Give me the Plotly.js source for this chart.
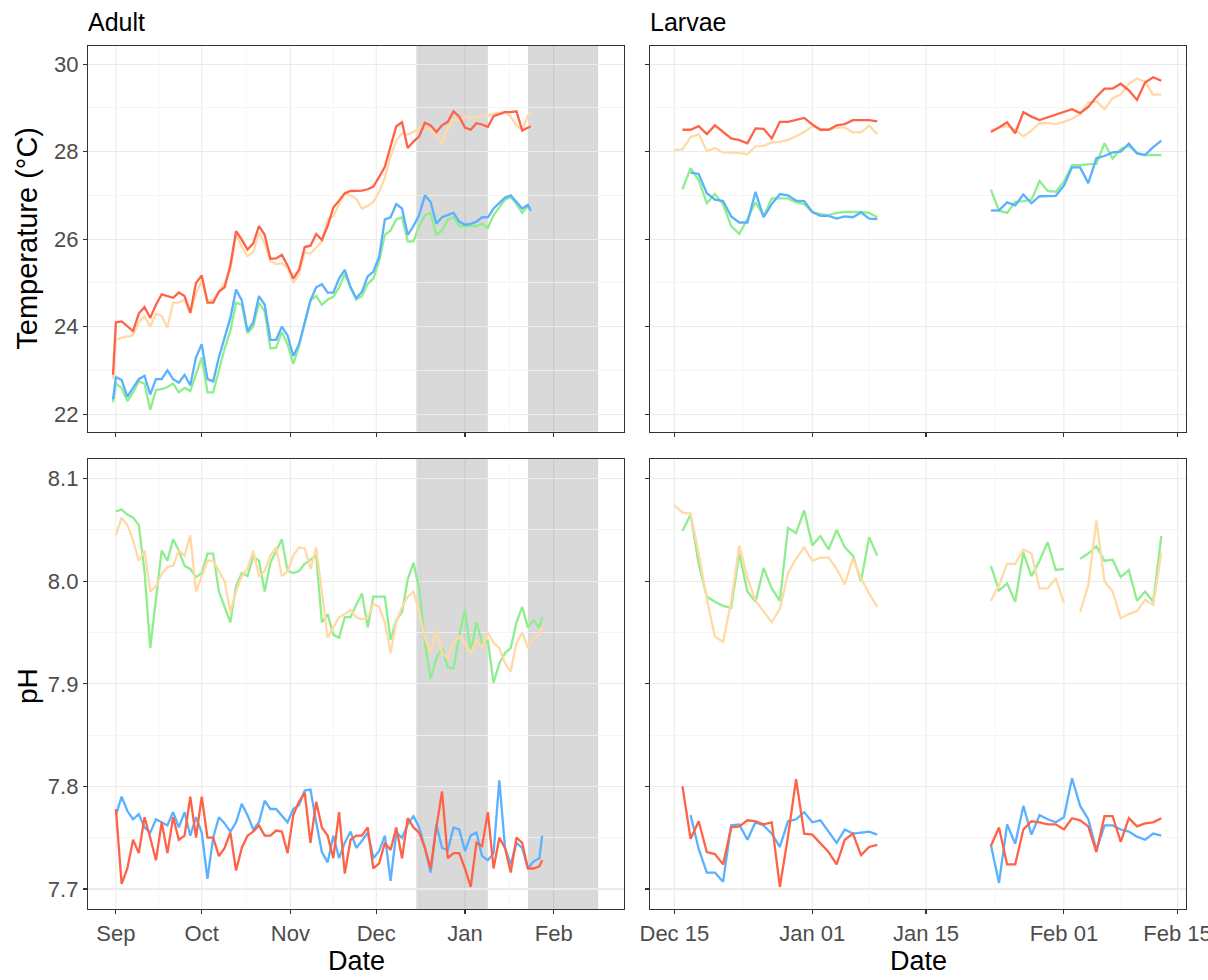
<!DOCTYPE html>
<html>
<head>
<meta charset="utf-8">
<script src="https://cdn.plot.ly/plotly-3.0.1.min.js"></script>
<style>html,body{margin:0;padding:0;background:#fff}#chart{width:1208px;height:980px}</style>
</head>
<body>
<div id="chart"></div>
<script>
// ---------- Adult: temperature ----------
const adultTempDates = ["2018-08-31","2018-09-01","2018-09-03","2018-09-05","2018-09-07","2018-09-09","2018-09-11","2018-09-13","2018-09-15","2018-09-17","2018-09-19","2018-09-21","2018-09-23","2018-09-25","2018-09-27","2018-09-29","2018-10-01","2018-10-03","2018-10-05","2018-10-07","2018-10-09","2018-10-11","2018-10-13","2018-10-15","2018-10-17","2018-10-19","2018-10-21","2018-10-23","2018-10-25","2018-10-27","2018-10-29","2018-10-31","2018-11-02","2018-11-04","2018-11-06","2018-11-08","2018-11-10","2018-11-12","2018-11-14","2018-11-16","2018-11-18","2018-11-20","2018-11-22","2018-11-24","2018-11-26","2018-11-28","2018-11-30","2018-12-02","2018-12-04","2018-12-06","2018-12-08","2018-12-10","2018-12-12","2018-12-14","2018-12-16","2018-12-18","2018-12-20","2018-12-22","2018-12-24","2018-12-26","2018-12-28","2018-12-30","2019-01-01","2019-01-03","2019-01-05","2019-01-07","2019-01-09","2019-01-11","2019-01-13","2019-01-15","2019-01-17","2019-01-19","2019-01-21","2019-01-23","2019-01-24"];
const adultTempRed = [22.9,24.1,
  24.12,24.0,23.9,24.3,24.45,24.2,24.5,24.74,24.7,24.66,24.78,24.7,24.32,25.0,
  25.17,24.55,24.55,24.8,24.9,25.4,26.18,25.99,25.76,25.9,26.3,26.1,25.55,25.56,25.64,25.4,
  25.1,25.3,25.82,25.85,26.12,25.98,26.3,26.72,26.88,27.05,27.1,27.1,27.11,27.14,27.2,
  27.42,27.65,28.12,28.58,28.67,28.08,28.23,28.35,28.66,28.6,28.45,28.6,28.68,28.92,28.8,
  28.55,28.5,28.65,28.62,28.56,28.81,28.86,28.9,28.9,28.92,28.48,28.55,
  28.58];
const adultTempPeach = [22.8,23.7,
  23.75,23.78,23.8,24.1,24.24,24.0,24.3,24.24,23.98,24.55,24.55,24.62,24.3,24.75,
  25.05,24.6,24.6,24.8,25.0,25.3,26.1,25.84,25.61,25.7,26.15,25.9,25.5,25.43,25.45,25.35,
  25.0,25.2,25.7,25.67,25.8,25.95,26.45,26.52,26.8,27.05,27.0,26.92,26.7,26.76,26.85,
  27.08,27.4,27.9,28.25,28.42,28.39,28.45,28.53,28.58,28.5,28.37,28.2,28.55,28.73,28.7,
  28.8,28.78,28.78,28.8,28.83,28.86,28.88,28.92,28.8,28.6,28.5,28.82,
  28.9];
const adultTempBlue = [22.34,22.85,
  22.78,22.4,22.6,22.8,22.88,22.45,22.8,22.8,23.0,22.8,22.72,22.9,22.66,23.3,
  23.6,22.8,22.75,23.3,23.75,24.2,24.85,24.6,23.9,24.1,24.7,24.5,23.7,23.7,24.0,23.8,
  23.33,23.6,24.1,24.6,24.9,24.97,24.78,24.78,25.1,25.3,24.9,24.65,24.8,25.15,25.26,
  25.6,26.45,26.5,26.8,26.7,26.1,26.3,26.55,27.0,26.85,26.35,26.5,26.55,26.6,26.4,
  26.33,26.35,26.4,26.5,26.5,26.7,26.82,26.95,27.0,26.86,26.7,26.78,
  26.65];
const adultTempGreen = [22.27,22.7,
  22.6,22.3,22.5,22.75,22.7,22.1,22.55,22.57,22.62,22.7,22.5,22.6,22.53,22.9,
  23.3,22.5,22.5,23.0,23.5,23.9,24.55,24.5,23.85,24.0,24.55,24.35,23.5,23.52,23.88,23.6,
  23.15,23.55,24.1,24.6,24.7,24.5,24.62,24.68,24.9,25.2,24.9,24.62,24.7,24.98,25.1,
  25.5,26.1,26.2,26.45,26.5,25.95,25.95,26.3,26.55,26.6,26.1,26.2,26.45,26.5,26.3,
  26.3,26.3,26.3,26.35,26.26,26.55,26.72,26.9,26.96,26.8,26.6,26.75,
  26.7];

// ---------- Adult: pH ----------
const adultPhDates = ["2018-09-01","2018-09-03","2018-09-05","2018-09-07","2018-09-09","2018-09-11","2018-09-13","2018-09-15","2018-09-17","2018-09-19","2018-09-21","2018-09-23","2018-09-25","2018-09-27","2018-09-29","2018-10-01","2018-10-03","2018-10-05","2018-10-07","2018-10-09","2018-10-11","2018-10-13","2018-10-15","2018-10-17","2018-10-19","2018-10-21","2018-10-23","2018-10-25","2018-10-27","2018-10-29","2018-10-31","2018-11-02","2018-11-04","2018-11-06","2018-11-08","2018-11-10","2018-11-12","2018-11-14","2018-11-16","2018-11-18","2018-11-20","2018-11-22","2018-11-24","2018-11-26","2018-11-28","2018-11-30","2018-12-02","2018-12-04","2018-12-06","2018-12-08","2018-12-10","2018-12-12","2018-12-14","2018-12-16","2018-12-18","2018-12-20","2018-12-22","2018-12-24","2018-12-26","2018-12-28","2018-12-30","2019-01-01","2019-01-03","2019-01-05","2019-01-07","2019-01-09","2019-01-11","2019-01-13","2019-01-15","2019-01-17","2019-01-19","2019-01-21","2019-01-23","2019-01-25","2019-01-27","2019-01-28"];
const adultPhGreen = [8.068,
  8.07,8.065,8.062,8.055,8.01,7.935,7.98,8.03,8.02,8.041,8.03,8.015,8.012,8.004,
  8.008,8.027,8.027,7.99,7.975,7.96,7.995,8.008,8.005,8.024,8.02,7.99,8.018,8.03,8.041,8.01,
  8.008,8.01,8.017,8.021,8.025,7.96,7.968,7.948,7.945,7.965,7.965,7.977,7.988,7.955,7.985,
  7.985,7.985,7.943,7.962,7.97,8.002,8.018,7.993,7.94,7.905,7.925,7.935,7.916,7.915,7.947,
  7.972,7.93,7.96,7.94,7.942,7.901,7.92,7.93,7.935,7.96,7.975,7.955,7.962,7.955,
  7.965];
const adultPhPeach = [8.045,
  8.062,8.055,8.04,8.02,8.03,7.99,7.995,8.007,8.014,8.015,8.03,8.025,8.045,7.99,
  8.005,8.02,8.02,8.01,8.0,7.97,7.99,8.005,8.012,8.03,8.005,8.01,8.025,8.033,8.005,8.01,
  8.025,8.033,8.032,8.012,8.033,7.99,7.945,7.955,7.965,7.968,7.972,7.965,7.963,7.965,7.978,
  7.975,7.96,7.93,7.96,7.975,7.985,7.99,7.97,7.945,7.93,7.952,7.93,7.925,7.94,7.946,
  7.94,7.93,7.942,7.935,7.95,7.94,7.935,7.92,7.912,7.94,7.95,7.935,7.945,7.948,
  7.955];
const adultPhBlue = [7.772,
  7.79,7.776,7.768,7.773,7.76,7.755,7.768,7.765,7.762,7.775,7.76,7.775,7.752,7.77,
  7.755,7.71,7.75,7.77,7.764,7.756,7.765,7.783,7.772,7.758,7.765,7.786,7.778,7.778,7.771,7.765,
  7.778,7.782,7.796,7.797,7.765,7.736,7.726,7.752,7.73,7.745,7.756,7.74,7.747,7.755,7.73,
  7.737,7.752,7.708,7.755,7.75,7.763,7.771,7.76,7.74,7.716,7.763,7.74,7.738,7.76,7.758,
  7.737,7.752,7.755,7.732,7.728,7.735,7.806,7.74,7.724,7.745,7.74,7.72,7.727,7.73,
  7.752];
const adultPhRed = [7.778,
  7.705,7.72,7.748,7.735,7.77,7.75,7.728,7.765,7.735,7.77,7.748,7.752,7.79,7.75,
  7.79,7.75,7.75,7.732,7.74,7.755,7.718,7.74,7.752,7.756,7.762,7.752,7.752,7.757,7.756,7.735,
  7.772,7.785,7.794,7.745,7.785,7.76,7.752,7.73,7.775,7.715,7.748,7.752,7.752,7.76,7.72,
  7.725,7.745,7.738,7.76,7.73,7.769,7.76,7.755,7.74,7.72,7.76,7.795,7.73,7.735,7.735,
  7.72,7.702,7.745,7.742,7.775,7.72,7.75,7.74,7.716,7.75,7.745,7.72,7.72,7.722,
  7.728];

// ---------- Larvae (daily; a null row separates the two runs) ----------
const larvaeDates = ["2018-12-15","2018-12-16","2018-12-17","2018-12-18","2018-12-19","2018-12-20","2018-12-21","2018-12-22","2018-12-23","2018-12-24","2018-12-25","2018-12-26","2018-12-27","2018-12-28","2018-12-29","2018-12-30","2018-12-31","2019-01-01","2019-01-02","2019-01-03","2019-01-04","2019-01-05","2019-01-06","2019-01-07","2019-01-08","2019-01-09",
  "2019-01-16",
  "2019-01-23","2019-01-24","2019-01-25","2019-01-26","2019-01-27","2019-01-28","2019-01-29","2019-01-30","2019-01-31","2019-02-01","2019-02-02","2019-02-03","2019-02-04","2019-02-05","2019-02-06","2019-02-07","2019-02-08","2019-02-09","2019-02-10","2019-02-11","2019-02-12","2019-02-13"];
const larvaeTempRed = [null,28.5,28.5,28.58,28.4,28.6,28.45,28.3,28.26,28.19,28.53,28.52,28.3,28.68,28.68,28.72,28.77,28.62,28.5,28.5,28.6,28.63,28.72,28.72,28.72,28.69,
  null,
  28.45,28.55,28.67,28.42,28.9,28.8,28.72,28.78,28.85,28.91,28.97,28.88,29.02,29.25,29.44,29.44,29.55,29.4,29.18,29.58,29.7,29.62];
const larvaeTempPeach = [28.04,28.05,28.33,28.4,28.02,28.08,27.98,27.98,27.97,27.94,28.12,28.13,28.21,28.22,28.27,28.35,28.45,28.58,28.52,28.5,28.55,28.55,28.44,28.44,28.59,28.4,
  null,
  28.48,28.55,28.58,28.5,28.35,28.48,28.65,28.65,28.63,28.68,28.75,28.86,29.12,29.15,28.97,29.22,29.31,29.55,29.67,29.6,29.3,29.31];
const larvaeTempBlue = [null,null,27.52,27.49,27.05,26.9,26.87,26.52,26.38,26.38,27.08,26.5,26.8,27.03,27.0,26.88,26.87,26.62,26.53,26.53,26.47,26.52,26.5,26.61,26.47,26.46,
  null,
  26.65,26.66,26.84,26.77,27.02,26.82,26.98,26.99,26.99,27.22,27.64,27.64,27.28,27.85,27.9,27.98,28.0,28.18,27.96,27.92,28.1,28.25];
const larvaeTempGreen = [null,27.14,27.62,27.35,26.82,27.03,26.8,26.3,26.12,26.46,26.84,26.53,26.93,26.93,26.93,26.84,26.8,26.62,26.57,26.55,26.6,26.62,26.62,26.62,26.6,26.5,
  null,
  27.13,26.65,26.6,26.85,26.87,26.9,27.33,27.1,27.08,27.31,27.69,27.69,27.71,27.72,28.19,27.84,28.06,28.13,27.97,27.92,27.92,27.92];
const larvaePhGreen = [null,8.049,8.065,8.017,7.985,7.98,7.976,7.974,8.027,7.99,7.98,8.013,7.993,7.981,8.052,8.047,8.069,8.035,8.044,8.031,8.05,8.033,8.025,8.0,8.043,8.025,
  null,
  8.015,7.991,7.998,7.98,8.028,8.005,8.02,8.038,8.011,8.012,null,8.022,8.027,8.034,8.02,8.021,8.004,8.011,7.981,7.99,7.98,8.044];
const larvaePhPeach = [8.074,8.067,8.066,8.027,7.983,7.946,7.941,7.98,8.035,8.003,7.981,7.97,7.96,7.973,8.008,8.022,8.033,8.02,8.023,8.023,8.012,7.997,8.022,8.003,7.988,7.975,
  null,
  7.981,7.996,8.017,8.017,8.031,8.027,7.993,7.993,8.003,7.979,null,7.97,7.996,8.059,8.0,7.99,7.964,7.968,7.971,7.982,7.977,8.028];
const larvaePhRed = [null,7.8,7.749,7.766,7.736,7.734,7.724,7.76,7.761,7.767,7.766,7.763,7.765,7.702,7.751,7.807,7.754,7.753,7.745,7.736,7.724,7.748,7.754,7.733,7.741,7.743,
  null,
  7.742,7.76,7.724,7.724,7.758,7.766,7.765,7.763,7.763,7.758,7.769,7.767,7.761,7.736,7.771,7.771,7.746,7.769,7.761,7.764,7.765,7.769];
const larvaePhBlue = [null,null,7.772,7.739,7.716,7.716,7.707,7.762,7.763,7.748,7.765,7.762,7.754,7.741,7.766,7.768,7.775,7.765,7.767,7.756,7.745,7.758,7.754,7.755,7.756,7.753,
  null,
  7.743,7.706,7.763,7.744,7.781,7.753,7.772,7.768,7.765,7.77,7.808,7.781,7.768,7.738,7.762,7.762,7.758,7.756,7.751,7.748,7.754,7.752];

// ---------- Shaded periods (adult panels) ----------
const shadeStarts = ["2018-12-15","2019-01-23"];
const shadeEnds   = ["2019-01-09","2019-02-16 12:00"];

// ---------- Tick labels ----------
const adultTickVals  = ["2018-09-01","2018-10-01","2018-11-01","2018-12-01","2019-01-01","2019-02-01"];
const adultTickText  = ["Sep","Oct","Nov","Dec","Jan","Feb"];
const larvaeTickVals = ["2018-12-15","2019-01-01","2019-01-15","2019-02-01","2019-02-15"];
const larvaeTickText = ["Dec 15","Jan 01","Jan 15","Feb 01","Feb 15"];

// ---------- colours ----------
const cRed = "#FF6347", cPeach = "#FFDAA6", cBlue = "#5AB1FF", cGreen = "#8EEE8E";

function line(x, y, color, xa, ya, name) {
  return {x: x, y: y, type: "scatter", mode: "lines", name: name,
          xaxis: xa, yaxis: ya, connectgaps: false, showlegend: false,
          line: {color: color, width: 2.3}, hoverinfo: "skip"};
}
const traces = [
  line(adultTempDates, adultTempGreen, cGreen, "x", "y", "Ambient T, ambient pH"),
  line(adultTempDates, adultTempPeach, cPeach, "x", "y", "Warm, ambient pH"),
  line(adultTempDates, adultTempBlue, cBlue, "x", "y", "Ambient T, low pH"),
  line(adultTempDates, adultTempRed, cRed, "x", "y", "Warm, low pH"),
  line(larvaeDates, larvaeTempGreen, cGreen, "x2", "y2", "Ambient T, ambient pH"),
  line(larvaeDates, larvaeTempPeach, cPeach, "x2", "y2", "Warm, ambient pH"),
  line(larvaeDates, larvaeTempBlue, cBlue, "x2", "y2", "Ambient T, low pH"),
  line(larvaeDates, larvaeTempRed, cRed, "x2", "y2", "Warm, low pH"),
  line(adultPhDates, adultPhGreen, cGreen, "x3", "y3", "Ambient T, ambient pH"),
  line(adultPhDates, adultPhPeach, cPeach, "x3", "y3", "Warm, ambient pH"),
  line(adultPhDates, adultPhBlue, cBlue, "x3", "y3", "Ambient T, low pH"),
  line(adultPhDates, adultPhRed, cRed, "x3", "y3", "Warm, low pH"),
  line(larvaeDates, larvaePhGreen, cGreen, "x4", "y4", "Ambient T, ambient pH"),
  line(larvaeDates, larvaePhPeach, cPeach, "x4", "y4", "Warm, ambient pH"),
  line(larvaeDates, larvaePhBlue, cBlue, "x4", "y4", "Ambient T, low pH"),
  line(larvaeDates, larvaePhRed, cRed, "x4", "y4", "Warm, low pH")
];

// minor (half-way) date grid positions, derived from the major tick dates
function mids(vals) {
  const out = [];
  for (let i = 0; i < vals.length - 1; i++) {
    const t = (Date.parse(vals[i]) + Date.parse(vals[i + 1])) / 2;
    out.push(new Date(t).toISOString().replace("T", " ").slice(0, 16));
  }
  const n = vals.length;
  const last = Date.parse(vals[n - 1]), prev = Date.parse(vals[n - 2]);
  out.push(new Date(last + (last - prev) / 2).toISOString().replace("T", " ").slice(0, 16));
  return out;
}

const W = 1208, H = 980;
const font = "Liberation Sans, Arial, sans-serif";
const tickFont = {family: font, size: 22, color: "#4D4D4D"};
const adultDom = [88 / W, 624 / W], larvaeDom = [650 / W, 1186 / W];
const topDom = [1 - 431.7 / H, 1 - 45.7 / H], botDom = [1 - 909 / H, 1 - 459 / H];
const adultRange = ["2018-08-22 06:00", "2019-02-25 14:00"];
const larvaeRange = ["2018-12-12 00:00", "2019-02-16 01:00"];
const tempRange = [21.6, 30.42], phRange = [7.6805, 8.1192];

function xax(dom, rng, vals, text, showLabels, anchor) {
  return {domain: dom, range: rng, type: "date", anchor: anchor,
    tickmode: "array", tickvals: vals, ticktext: text, showticklabels: showLabels,
    ticklabeloverflow: "allow",
    ticks: "outside", ticklen: 4, tickwidth: 1.1, tickcolor: "#333333",
    tickfont: tickFont, showgrid: false,
    showline: true, mirror: true, linecolor: "#333333", linewidth: 1.2, zeroline: false, fixedrange: true};
}
function yax(dom, rng, dt, minorDt, showLabels, anchor, fmt) {
  return {domain: dom, range: rng, anchor: anchor, tickmode: "linear", dtick: dt,
    tick0: 0, showticklabels: showLabels, tickformat: fmt,
    ticks: "outside", ticklen: 4, tickwidth: 1.1, tickcolor: "#333333",
    tickfont: tickFont, showgrid: true, gridcolor: "#EBEBEB", gridwidth: 1.1,
    minor: {dtick: minorDt, tick0: 0, showgrid: true, gridcolor: "#F3F3F3", gridwidth: 0.8, ticks: ""},
    showline: true, mirror: true, linecolor: "#333333", linewidth: 1.2, zeroline: false, fixedrange: true};
}

const shapes = [];
const panels = [["x", "y domain", adultTickVals], ["x3", "y3 domain", adultTickVals],
                ["x2", "y2 domain", larvaeTickVals], ["x4", "y4 domain", larvaeTickVals]];
// minor vertical grid lines
panels.forEach(function (r) {
  mids(r[2]).forEach(function (d) {
    shapes.push({type: "line", xref: r[0], yref: r[1], x0: d, x1: d, y0: 0, y1: 1,
      layer: "below", line: {color: "rgba(0,0,0,0.045)", width: 0.8}});
  });
});
// shaded periods (translucent, so the grid shows through as in the original)
for (let i = 0; i < shadeStarts.length; i++) {
  [["x", "y domain"], ["x3", "y3 domain"]].forEach(function (r) {
    shapes.push({type: "rect", xref: r[0], yref: r[1], x0: shadeStarts[i], x1: shadeEnds[i],
      y0: 0, y1: 1, layer: "below", fillcolor: "rgba(0,0,0,0.15)", line: {width: 0}});
  });
}
// major vertical grid lines
panels.forEach(function (r) {
  r[2].forEach(function (d) {
    shapes.push({type: "line", xref: r[0], yref: r[1], x0: d, x1: d, y0: 0, y1: 1,
      layer: "below", line: {color: "rgba(0,0,0,0.08)", width: 1.1}});
  });
});

const ann = (text, x, y, size, opts) => Object.assign({text: text, x: x, y: y, xref: "paper", yref: "paper",
  showarrow: false, font: {family: font, size: size, color: "#000000"}}, opts || {});

const layout = {
  width: W, height: H, margin: {l: 0, r: 0, t: 0, b: 0},
  paper_bgcolor: "#FFFFFF", plot_bgcolor: "rgba(0,0,0,0)", showlegend: false,
  xaxis:  xax(adultDom,  adultRange,  adultTickVals,  adultTickText,  false, "y"),
  xaxis2: xax(larvaeDom, larvaeRange, larvaeTickVals, larvaeTickText, false, "y2"),
  xaxis3: xax(adultDom,  adultRange,  adultTickVals,  adultTickText,  true,  "y3"),
  xaxis4: xax(larvaeDom, larvaeRange, larvaeTickVals, larvaeTickText, true,  "y4"),
  yaxis:  yax(topDom, tempRange, 2, 1, true,  "x",  ""),
  yaxis2: yax(topDom, tempRange, 2, 1, false, "x2", ""),
  yaxis3: yax(botDom, phRange, 0.1, 0.05, true,  "x3", ".1f"),
  yaxis4: yax(botDom, phRange, 0.1, 0.05, false, "x4", ".1f"),
  shapes: shapes,
  annotations: [
    ann("Adult", 86 / W, 1 - 22 / H, 25, {xanchor: "left", yanchor: "middle"}),
    ann("Larvae", 648 / W, 1 - 22 / H, 25, {xanchor: "left", yanchor: "middle"}),
    ann("Temperature (°C)", 27 / W, 1 - 238.7 / H, 29, {textangle: -90, xanchor: "center", yanchor: "middle"}),
    ann("pH", 27 / W, 1 - 686 / H, 28, {textangle: -90, xanchor: "center", yanchor: "middle"}),
    ann("Date", 356 / W, 1 - 961 / H, 27, {xanchor: "center", yanchor: "middle"}),
    ann("Date", 918 / W, 1 - 961 / H, 27, {xanchor: "center", yanchor: "middle"})
  ]
};

Plotly.newPlot("chart", traces, layout, {staticPlot: true, displayModeBar: false});
</script>
</body>
</html>
